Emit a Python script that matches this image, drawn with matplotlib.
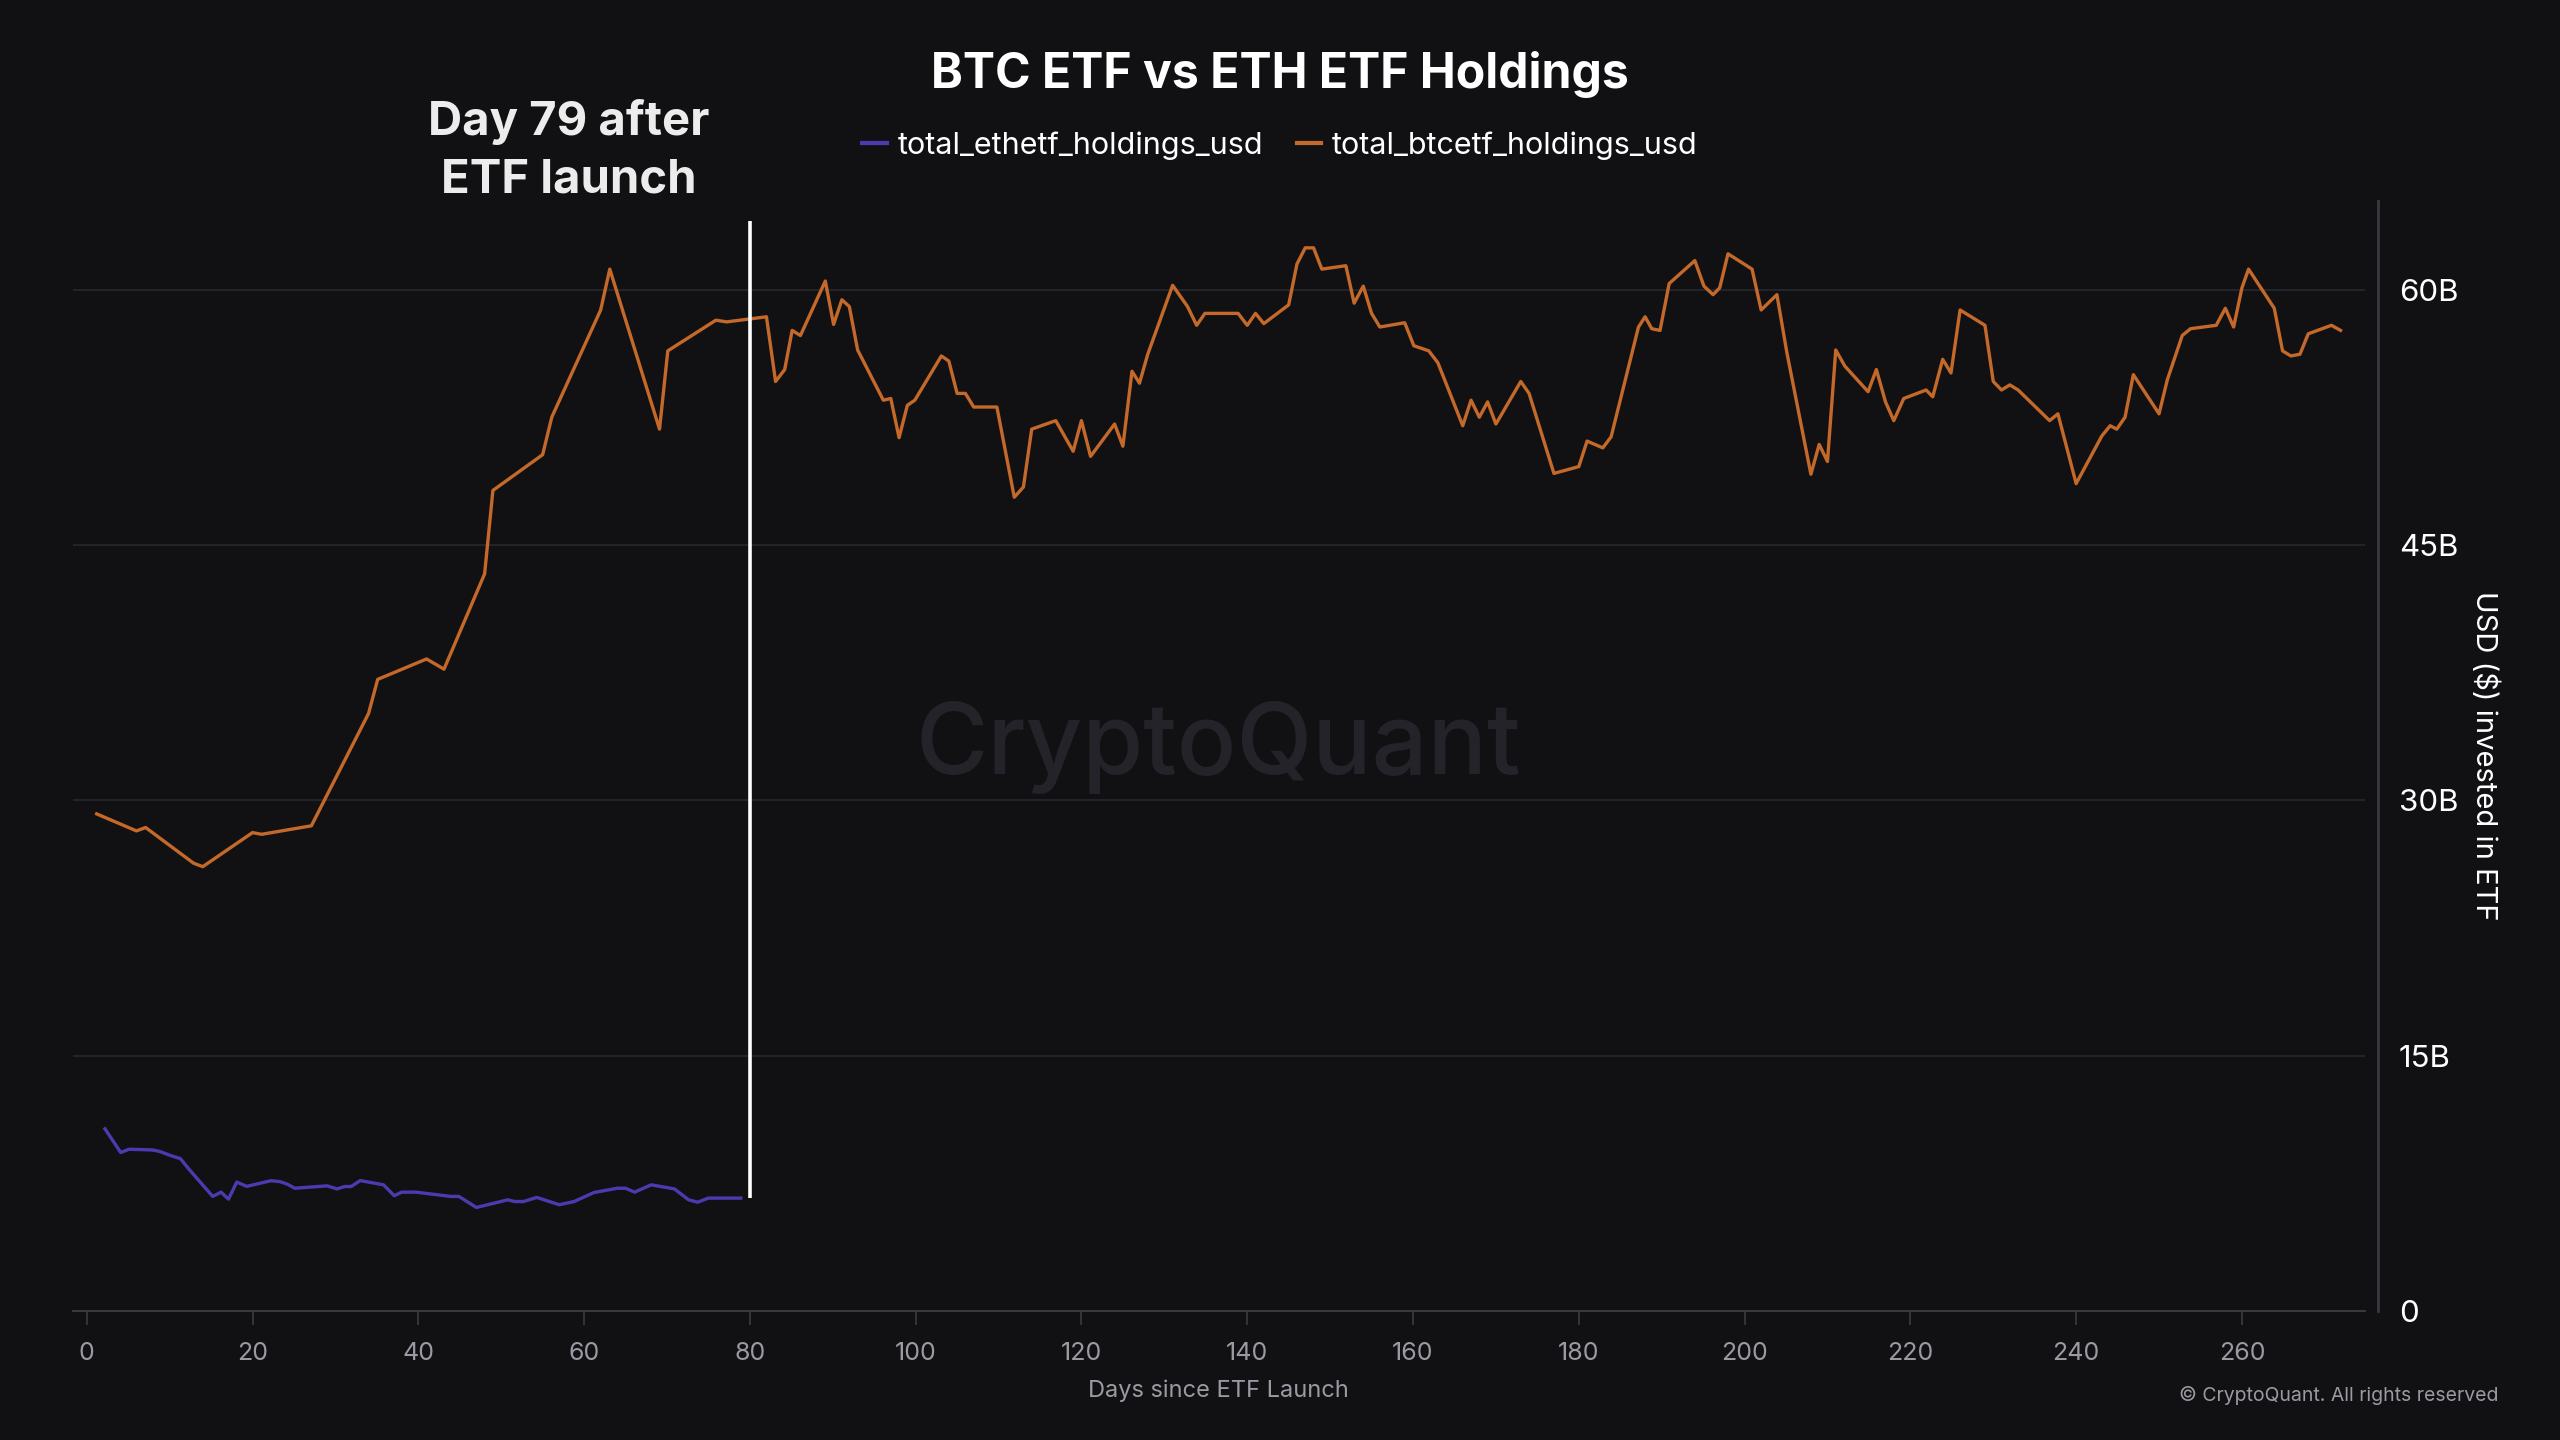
import matplotlib
matplotlib.use("Agg")
import matplotlib.pyplot as plt

# ---------------- data ----------------
btc_days = [1.2, 6.0, 7.1, 12.9, 14.0, 20.0, 21.1, 27.1, 34.0, 35.1, 41.0, 43.1, 48.0, 49.0,
            55.0, 56.1, 62.0, 63.1, 69.1, 70.1, 75.9, 77.2, 82.0, 83.1, 84.2, 85.1, 86.1, 89.1,
            90.1, 91.1, 92.0, 93.0, 96.1, 97.0, 98.0, 99.0, 99.9, 103.1, 104.0, 105.0, 106.0,
            107.0, 109.8, 111.9, 113.0, 114.0, 116.9, 119.0, 120.0, 121.1, 124.0, 125.0, 126.1,
            127.0, 128.0, 131.0, 132.8, 133.9, 134.9, 138.9, 140.0, 141.0, 142.0, 145.0, 146.0,
            147.0, 148.0, 149.0, 151.9, 152.9, 154.0, 155.0, 156.0, 159.0, 160.1, 161.9, 163.0,
            166.0, 167.0, 168.0, 169.0, 170.0, 173.0, 174.0, 177.0, 180.0, 181.0, 182.9, 183.9,
            187.2, 188.0, 188.8, 189.8, 190.9, 194.0, 195.1, 196.2, 197.0, 198.0, 200.9, 202.0,
            203.9, 205.1, 208.0, 209.0, 210.0, 211.0, 212.1, 214.9, 215.9, 217.0, 218.0, 219.2,
            221.9, 222.7, 223.9, 224.9, 226.0, 229.0, 230.0, 231.0, 232.0, 233.0, 236.8, 237.8,
            240.0, 243.1, 244.1, 244.9, 245.9, 246.9, 250.0, 251.0, 252.8, 253.8, 256.9, 258.0,
            259.0, 260.0, 260.8, 263.9, 264.9, 265.9, 267.0, 268.0, 270.8, 271.9]
btc_holdings_b = [29.2, 28.2, 28.4, 26.3, 26.1, 28.1, 28.0, 28.5, 35.1, 37.1, 38.3, 37.7, 43.3, 48.2,
                  50.3, 52.5, 58.8, 61.2, 51.8, 56.4, 58.2, 58.1, 58.4, 54.6, 55.3, 57.6, 57.3, 60.5,
                  57.95, 59.4, 59.0, 56.45, 53.5, 53.6, 51.3, 53.2, 53.5, 56.1, 55.8, 53.9, 53.9,
                  53.1, 53.1, 47.8, 48.4, 51.8, 52.3, 50.5, 52.3, 50.2, 52.1, 50.8, 55.2,
                  54.5, 56.2, 60.25, 59.0, 57.9, 58.6, 58.6, 57.9, 58.6, 58.0, 59.1, 61.5,
                  62.45, 62.45, 61.2, 61.4, 59.2, 60.2, 58.6, 57.8, 58.05, 56.7, 56.4, 55.7,
                  52.0, 53.5, 52.5, 53.4, 52.1, 54.6, 53.9, 49.2, 49.6, 51.1, 50.7, 51.35,
                  57.8, 58.4, 57.7, 57.6, 60.35, 61.7, 60.2, 59.7, 60.1, 62.1, 61.2, 58.8,
                  59.7, 56.3, 49.15, 50.9, 49.9, 56.45, 55.5, 54.0, 55.3, 53.4, 52.3, 53.6,
                  54.1, 53.7, 55.9, 55.1, 58.8, 57.9, 54.6, 54.1, 54.4, 54.1, 52.3, 52.7,
                  48.6, 51.4, 52.0, 51.8, 52.5, 55.0, 52.7, 54.7, 57.3, 57.7, 57.9, 58.9,
                  57.8, 60.1, 61.2, 58.9, 56.4, 56.1, 56.2, 57.4, 57.9, 57.6]

eth_days = [2.2, 4.1, 5.1, 7.9, 8.8, 10.3, 11.3, 12.4, 15.2, 16.2, 17.1, 18.1, 19.3, 22.2, 23.3,
            24.2, 25.1, 29.0, 30.2, 31.1, 31.9, 33.0, 35.8, 37.1, 38.0, 39.7, 43.9, 44.9, 47.0,
            50.8, 51.6, 52.7, 54.3, 57.0, 58.8, 61.2, 64.0, 65.0, 66.1, 68.1, 70.9, 72.6, 73.7,
            75.0, 78.9]
eth_holdings_b = [10.7, 9.31, 9.5, 9.46, 9.37, 9.1, 8.95, 8.29, 6.73, 6.98, 6.57, 7.57, 7.32, 7.65,
                  7.6, 7.45, 7.21, 7.35, 7.17, 7.31, 7.31, 7.66, 7.41, 6.77, 6.98, 6.98, 6.73, 6.73,
                  6.08, 6.53, 6.43, 6.43, 6.67, 6.24, 6.43, 6.96, 7.21, 7.21, 6.98, 7.41, 7.17,
                  6.53, 6.39, 6.63, 6.63]

x_ticks = [0, 20, 40, 60, 80, 100, 120, 140, 160, 180, 200, 220, 240, 260]
y_ticks = [0, 15, 30, 45, 60]
y_tick_labels = ["0", "15B", "30B", "45B", "60B"]
marker_day = 80
marker_top = 64.0

# ---------------- style ----------------
BG = "#111113"
GRID = "#24242b"
ETH_C = "#4b3bb0"
BTC_C = "#c4692a"
GRAY = "#9a9aa3"
FONT = ["Inter", "DejaVu Sans"]
plt.rcParams["font.family"] = FONT

fig = plt.figure(figsize=(25.6, 14.4), dpi=100, facecolor=BG)
ax = fig.add_axes([0.0287, 0.0896, 0.8953, 0.7708])
ax.set_facecolor(BG)

ax.set_xlim(-1.6, 274.9)
ax.set_ylim(0, 65.2)

for y in y_ticks[1:]:
    ax.axhline(y, color=GRID, lw=1.4, zorder=0)

ax.plot(eth_days, eth_holdings_b, color=ETH_C, lw=2.4, label="total_ethetf_holdings_usd", zorder=3)
ax.plot(btc_days, btc_holdings_b, color=BTC_C, lw=2.4, label="total_btcetf_holdings_usd", zorder=3)

ax.vlines(marker_day, eth_holdings_b[-1], marker_top, color="white", lw=2.6, zorder=4)

# spines
for s in ["top", "left"]:
    ax.spines[s].set_visible(False)
ax.spines["bottom"].set_color("#3a3a42")
ax.spines["bottom"].set_linewidth(1.4)
ax.spines["right"].set_color("#3a3a42")
ax.spines["right"].set_linewidth(2.0)
ax.spines["right"].set_position(("outward", 9))

ax.set_xticks(x_ticks)
ax.set_xticklabels([str(t) for t in x_ticks])
ax.tick_params(axis="x", colors="#3a3a42", length=10, width=1.2, pad=12,
               labelsize=18, labelcolor=GRAY)
ax.yaxis.tick_right()
ax.set_yticks(y_ticks)
ax.set_yticklabels(y_tick_labels)
ax.tick_params(axis="y", length=0, pad=15, labelsize=22.5, labelcolor="white")

ax.yaxis.set_label_position("right")
ax.set_ylabel("USD ($) invested in ETF", color="white", fontsize=21, rotation=270,
              labelpad=40)
ax.yaxis.set_label_coords(1.058, 0.5)

fig.text(0.476, 0.034, "Days since ETF Launch", color=GRAY, fontsize=17,
         ha="center", va="center")
fig.text(0.976, 0.031, "© CryptoQuant. All rights reserved", color=GRAY, fontsize=14,
         ha="right", va="center")

fig.text(0.5, 0.948, "BTC ETF vs ETH ETF Holdings", color="white", fontsize=34.7,
         fontweight="bold", ha="center", va="center")
fig.text(0.222, 0.8952, "Day 79 after\nETF launch", color="#ececec", fontsize=34,
         fontweight="bold", ha="center", va="center", linespacing=1.39)

fig.text(0.476, 0.481, "CryptoQuant", color="#232329", fontsize=71, fontweight="medium",
         ha="center", va="center", zorder=0)

leg = fig.legend(loc="center", bbox_to_anchor=(0.5, 0.899), ncol=2, frameon=False,
                 fontsize=22, labelcolor="white", handlelength=0.8, handletextpad=0.35,
                 columnspacing=1.1)
for line in leg.get_lines():
    line.set_linewidth(3)

fig.savefig("out.png", dpi=100, facecolor=BG)
